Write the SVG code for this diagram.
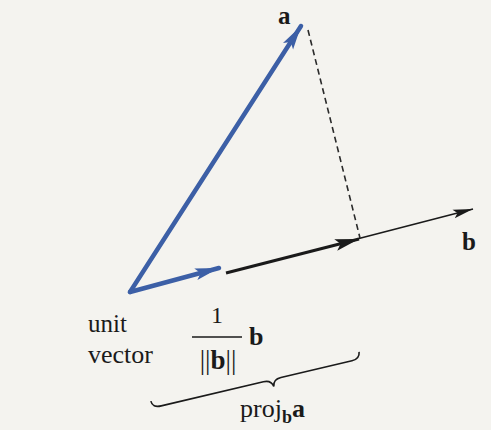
<svg xmlns="http://www.w3.org/2000/svg" width="491" height="430" viewBox="0 0 491 430">
<style>
.lbl{font-family:"Liberation Serif","Times New Roman",serif;fill:#1a1a1a}
.bold{font-weight:bold}
</style>
<defs>
<marker id="ahBlue" markerUnits="userSpaceOnUse" markerWidth="26" markerHeight="16" refX="24" refY="7" orient="auto">
<path d="M0,1 L24,7 L0,13 L5,7 Z" fill="#3c5fa6"/>
</marker>
<marker id="ahBlack" markerUnits="userSpaceOnUse" markerWidth="26" markerHeight="16" refX="24" refY="7" orient="auto">
<path d="M0,1 L24,7 L0,13 L5,7 Z" fill="#1a1a1a"/>
</marker>
<marker id="ahThin" markerUnits="userSpaceOnUse" markerWidth="22" markerHeight="12" refX="20" refY="5" orient="auto">
<path d="M0,0.5 L20,5 L0,9.5 L4,5 Z" fill="#1a1a1a"/>
</marker>
</defs>
<rect width="491" height="430" fill="#f4f3ef"/>
<g id="connectors">
<line id="vec-a" x1="130" y1="292" x2="301" y2="26" stroke="#3c5fa6" stroke-width="4.5" stroke-linecap="round" marker-end="url(#ahBlue)"/>
<line id="unit-vec" x1="130" y1="292" x2="219" y2="268" stroke="#3c5fa6" stroke-width="4.5" stroke-linecap="round" marker-end="url(#ahBlue)"/>
<line id="proj" x1="226" y1="273" x2="359" y2="239" stroke="#1a1a1a" stroke-width="3" marker-end="url(#ahBlack)"/>
<line id="vec-b" x1="357" y1="239" x2="473" y2="209" stroke="#1a1a1a" stroke-width="1.6" marker-end="url(#ahThin)"/>
<line id="dashed" x1="308" y1="30" x2="360" y2="238" stroke="#2a2a2a" stroke-width="1.6" stroke-dasharray="6 4"/>
<path id="brace" transform="translate(152,406) rotate(-13.3)" d="M0,-5 Q0,2 9,2 L114,2 Q122,2 123,9 Q124,2 132,2 L205,2 Q213,2 214,-5" fill="none" stroke="#1a1a1a" stroke-width="1.6"/>
</g>
<g id="label-a"><text class="lbl bold" x="278" y="24" font-size="25">a</text></g>
<g id="label-b"><text class="lbl bold" x="462" y="250" font-size="25">b</text></g>
<g id="label-unit">
<text class="lbl" x="88" y="332" font-size="25">unit</text>
<text class="lbl" x="88" y="363" font-size="26">vector</text>
</g>
<g id="label-fraction">
<text class="lbl" x="217" y="323" font-size="24" text-anchor="middle">1</text>
<line x1="192" y1="337" x2="242" y2="337" stroke="#1a1a1a" stroke-width="1.5"/>
<text class="lbl" x="218" y="369" font-size="27" text-anchor="middle">||<tspan class="bold">b</tspan>||</text>
<text class="lbl bold" x="249" y="345" font-size="26">b</text>
</g>
<g id="label-proj">
<text class="lbl" x="240" y="417" font-size="26">proj<tspan class="bold" font-size="18" dy="6">b</tspan><tspan class="bold" dy="-6">a</tspan></text>
</g>
</svg>
